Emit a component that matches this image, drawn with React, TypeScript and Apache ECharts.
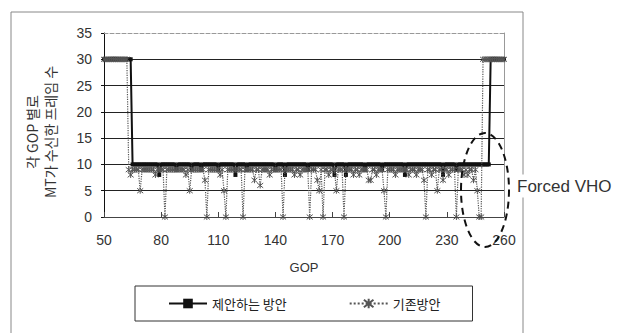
import React, { useEffect, useRef } from "react";
import * as echarts from "echarts";

const gop = [
  50, 51, 52, 53, 54, 55, 56, 57, 58, 59,
  60, 61, 62, 63, 64, 65, 66, 67, 68, 69,
  70, 71, 72, 73, 74, 75, 76, 77, 78, 79,
  80, 81, 82, 83, 84, 85, 86, 87, 88, 89,
  90, 91, 92, 93, 94, 95, 96, 97, 98, 99,
  100, 101, 102, 103, 104, 105, 106, 107, 108, 109,
  110, 111, 112, 113, 114, 115, 116, 117, 118, 119,
  120, 121, 122, 123, 124, 125, 126, 127, 128, 129,
  130, 131, 132, 133, 134, 135, 136, 137, 138, 139,
  140, 141, 142, 143, 144, 145, 146, 147, 148, 149,
  150, 151, 152, 153, 154, 155, 156, 157, 158, 159,
  160, 161, 162, 163, 164, 165, 166, 167, 168, 169,
  170, 171, 172, 173, 174, 175, 176, 177, 178, 179,
  180, 181, 182, 183, 184, 185, 186, 187, 188, 189,
  190, 191, 192, 193, 194, 195, 196, 197, 198, 199,
  200, 201, 202, 203, 204, 205, 206, 207, 208, 209,
  210, 211, 212, 213, 214, 215, 216, 217, 218, 219,
  220, 221, 222, 223, 224, 225, 226, 227, 228, 229,
  230, 231, 232, 233, 234, 235, 236, 237, 238, 239,
  240, 241, 242, 243, 244, 245, 246, 247, 248, 249,
  250, 251, 252, 253, 254, 255, 256, 257, 258, 259,
  260,
];

// 제안하는 방안
const proposed = [
  30, 30, 30, 30, 30, 30, 30, 30, 30, 30,
  30, 30, 30, 30, 30, 10, 10, 10, 10, 10,
  10, 10, 10, 10, 10, 10, 10, 10, 10, 8,
  10, 10, 10, 10, 10, 10, 10, 10, 9, 10,
  10, 10, 10, 10, 10, 10, 9, 10, 10, 10,
  10, 9, 10, 10, 10, 10, 10, 10, 10, 10,
  9, 10, 10, 10, 10, 10, 10, 10, 10, 8,
  10, 10, 10, 10, 10, 9, 10, 10, 10, 10,
  10, 10, 10, 10, 10, 10, 10, 10, 10, 10,
  9, 10, 10, 10, 10, 8, 10, 10, 10, 10,
  10, 10, 10, 10, 10, 10, 10, 9, 10, 10,
  10, 10, 10, 10, 10, 10, 10, 10, 10, 10,
  10, 8, 10, 10, 10, 10, 10, 8, 10, 10,
  10, 10, 10, 10, 10, 10, 10, 9, 10, 10,
  10, 10, 10, 10, 10, 10, 9, 10, 10, 10,
  10, 10, 10, 10, 10, 10, 10, 10, 8, 10,
  10, 10, 10, 10, 10, 10, 10, 10, 10, 10,
  10, 10, 10, 10, 10, 10, 10, 10, 8, 10,
  10, 10, 10, 10, 10, 9, 10, 10, 10, 10,
  10, 10, 10, 10, 10, 10, 10, 10, 10, 10,
  10, 10, 10, 30, 30, 30, 30, 30, 30, 30,
  30,
];

// 기존방안
const existing = [
  30, 30, 30, 30, 30, 30, 30, 30, 30, 30,
  30, 30, 30, 9, 8, 9, 9, 9, 9, 5,
  9, 9, 9, 9, 9, 9, 9, 8, 9, 9,
  9, 9, 0, 9, 9, 9, 9, 9, 9, 9,
  9, 9, 9, 8, 9, 5, 9, 9, 9, 9,
  9, 9, 9, 7, 0, 9, 9, 9, 9, 9,
  9, 8, 9, 5, 0, 9, 9, 9, 9, 9,
  9, 9, 9, 0, 9, 9, 9, 9, 9, 7,
  9, 9, 6, 9, 9, 9, 9, 8, 9, 9,
  9, 9, 9, 9, 0, 9, 9, 9, 9, 9,
  8, 9, 9, 8, 9, 9, 9, 9, 0, 9,
  9, 9, 7, 5, 9, 0, 9, 9, 8, 9,
  9, 9, 5, 9, 9, 9, 0, 9, 9, 9,
  9, 8, 9, 9, 8, 9, 9, 9, 9, 7,
  7, 9, 9, 8, 9, 9, 9, 5, 0, 9,
  9, 9, 9, 8, 9, 9, 9, 9, 9, 9,
  8, 9, 9, 9, 8, 9, 9, 9, 7, 0,
  9, 9, 8, 9, 9, 5, 9, 9, 7, 9,
  9, 8, 9, 9, 9, 0, 9, 9, 9, 8,
  9, 8, 9, 9, 7, 9, 5, 0, 0, 30,
  30, 30, 30, 30, 30, 30, 30, 30, 30, 30,
  30,
];

const seriesNames = ["제안하는 방안", "기존방안"];
const yTitle = "각 GOP 별로\nMT가 수신한 프레임 수";
const xTitle = "GOP";
const note = "Forced VHO";

const ASTERISK = "path://M5 0L5 10M1 1L9 9M9 1L1 9";
const NUM_FONT = '"Liberation Sans", Arial, sans-serif';
const KR_FONT = '"Noto Sans CJK KR", "Liberation Sans", sans-serif';

export default function App() {
  const ref = useRef<HTMLDivElement>(null);

  useEffect(() => {
    if (!ref.current) return;
    const chart = echarts.init(ref.current, undefined, { renderer: "svg" });
    const pData = gop.map((g, i) => [g, proposed[i]]);
    const eData = gop.map((g, i) => [g, existing[i]]);

    chart.setOption({
      animation: false,
      backgroundColor: "#fff",
      grid: { left: 104, right: 114, top: 33, bottom: 116 },
      legend: {
        data: seriesNames,
        left: 135,
        top: 286,
        orient: "horizontal",
        padding: [11, 32, 11, 33],
        itemGap: 62,
        itemWidth: 38,
        itemHeight: 12,
        borderColor: "#333",
        borderWidth: 1,
        textStyle: { fontSize: 13, color: "#222", fontFamily: KR_FONT },
      },
      xAxis: [
        {
          type: "value",
          position: "bottom",
          min: 50,
          max: 260,
          interval: 30,
          name: xTitle,
          nameLocation: "middle",
          nameGap: 44,
          nameTextStyle: { fontSize: 13, color: "#333", fontFamily: NUM_FONT },
          axisLine: { show: true, onZero: false, lineStyle: { color: "#444", width: 1 } },
          axisTick: { show: true, inside: true, length: 5, lineStyle: { color: "#444" } },
          axisLabel: { fontSize: 14, color: "#333", margin: 16, fontFamily: NUM_FONT },
          splitLine: { show: false },
          z: 5,
        },
        {
          type: "value",
          position: "top",
          min: 50,
          max: 260,
          axisLine: { show: true, onZero: false, lineStyle: { color: "#999", type: "dashed", width: 1 } },
          axisTick: { show: false },
          axisLabel: { show: false },
          splitLine: { show: false },
        },
      ],
      yAxis: [
        {
          type: "value",
          min: 0,
          max: 35,
          interval: 5,
          axisLine: { show: true, onZero: false, lineStyle: { color: "#111", width: 1 } },
          axisTick: { show: true, length: 3, lineStyle: { color: "#111" } },
          axisLabel: { fontSize: 14, color: "#333", margin: 12, fontFamily: NUM_FONT },
          splitLine: {
            show: true,
            showMinLine: false,
            showMaxLine: false,
            lineStyle: { color: "#222", width: 1 },
          },
        },
        {
          type: "value",
          position: "right",
          min: 0,
          max: 35,
          axisLine: { show: true, onZero: false, lineStyle: { color: "#999", width: 1 } },
          axisTick: { show: false },
          axisLabel: { show: false },
          splitLine: { show: false },
        },
      ],
      series: [
        {
          name: seriesNames[0],
          type: "line",
          data: pData,
          xAxisIndex: 0,
          yAxisIndex: 0,
          showAllSymbol: true,
          symbol: "rect",
          symbolSize: 4,
          itemStyle: { color: "#111" },
          lineStyle: { color: "#111", width: 2 },
          z: 3,
        },
        {
          name: seriesNames[1],
          type: "line",
          data: eData,
          xAxisIndex: 0,
          yAxisIndex: 0,
          showAllSymbol: true,
          symbol: ASTERISK,
          symbolSize: 6,
          itemStyle: { color: "#666", borderColor: "#555", borderWidth: 1 },
          lineStyle: { color: "#555", width: 1.2, type: "dotted" },
          z: 4,
        },
      ],
      graphic: [
        {
          type: "rect",
          shape: { x: 11, y: 12, width: 512, height: 330 },
          style: { stroke: "#888", fill: "none", lineWidth: 1 },
          silent: true,
          z: 0,
        },
        {
          type: "text",
          x: 41,
          y: 132,
          rotation: Math.PI / 2,
          style: {
            text: yTitle,
            align: "center",
            verticalAlign: "middle",
            fontSize: 14,
            lineHeight: 18,
            fill: "#333",
            fontFamily: KR_FONT,
          },
          z: 10,
        },
        {
          type: "ellipse",
          shape: { cx: 485, cy: 190, rx: 24, ry: 57 },
          style: { stroke: "#111", fill: "none", lineWidth: 2, lineDash: [7, 5] },
          z: 10,
        },
        {
          type: "text",
          x: 516,
          y: 186,
          style: {
            text: note,
            align: "left",
            verticalAlign: "middle",
            fontSize: 17,
            fill: "#333",
            fontFamily: NUM_FONT,
            backgroundColor: "#fff",
            padding: [3, 0, 3, 1],
          },
          z: 10,
        },
      ],
    });

    return () => chart.dispose();
  }, []);

  return <div ref={ref} style={{ width: 618, height: 333, position: "absolute", left: 0, top: 0 }} />;
}
